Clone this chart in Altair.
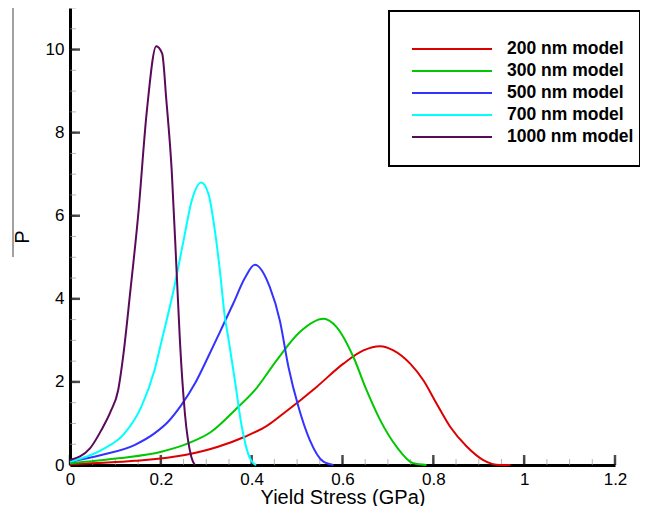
import altair as alt
import pandas as pd

series_names = ["200 nm model", "300 nm model", "500 nm model", "700 nm model", "1000 nm model"]
series_colors = ["#DD0000", "#00C800", "#3333FF", "#00FFFF", "#5A0A5A"]

x_200 = [0, 0.142, 0.253, 0.326, 0.385, 0.436, 0.47, 0.543, 0.602, 0.646, 0.683, 0.712, 0.749, 0.778, 0.807, 0.837, 0.874, 0.91, 0.947, 0.97]
y_200 = [0.02, 0.1, 0.24, 0.44, 0.68, 0.96, 1.24, 1.88, 2.44, 2.76, 2.86, 2.76, 2.44, 2.04, 1.48, 0.92, 0.44, 0.12, 0.0, 0.0]

x_300 = [0, 0.106, 0.201, 0.26, 0.311, 0.363, 0.407, 0.455, 0.506, 0.558, 0.587, 0.624, 0.653, 0.683, 0.719, 0.756, 0.785]
y_300 = [0.04, 0.16, 0.32, 0.52, 0.8, 1.32, 1.8, 2.52, 3.2, 3.52, 3.32, 2.6, 1.8, 1.08, 0.44, 0.04, 0.0]

x_500 = [0, 0.069, 0.142, 0.186, 0.216, 0.245, 0.275, 0.304, 0.33, 0.36, 0.385, 0.407, 0.44, 0.462, 0.481, 0.503, 0.528, 0.558, 0.58]
y_500 = [0.08, 0.24, 0.48, 0.76, 1.04, 1.44, 1.96, 2.6, 3.2, 3.9, 4.5, 4.82, 4.28, 3.48, 2.36, 1.4, 0.6, 0.08, 0.0]

x_700 = [0, 0.069, 0.12, 0.157, 0.186, 0.202, 0.228, 0.25, 0.268, 0.289, 0.305, 0.319, 0.33, 0.341, 0.348, 0.363, 0.377, 0.392, 0.405, 0.41]
y_700 = [0.08, 0.36, 0.76, 1.4, 2.28, 3.0, 4.2, 5.4, 6.36, 6.8, 6.52, 5.64, 4.68, 3.56, 3.1, 2.04, 1.0, 0.28, 0.03, 0.0]

x_1000 = [0, 0.044, 0.069, 0.09, 0.106, 0.118, 0.132, 0.15, 0.169, 0.19, 0.203, 0.212, 0.224, 0.235, 0.242, 0.253, 0.267, 0.275]
y_1000 = [0.12, 0.4, 0.84, 1.3, 1.8, 2.7, 4.1, 6.0, 8.5, 10.08, 9.9, 8.8, 7.08, 4.6, 3.0, 1.24, 0.2, 0.0]

x_major = [0, 0.2, 0.4, 0.6, 0.8, 1.0, 1.2]
x_minor = [round(0.05 * i, 2) for i in range(25)]
y_major = [0, 2, 4, 6, 8, 10]
y_minor = [round(0.5 * i, 1) for i in range(23)]

rows = []
for name, xs, ys in zip(series_names,
                        [x_200, x_300, x_500, x_700, x_1000],
                        [y_200, y_300, y_500, y_700, y_1000]):
    for i, (xv, yv) in enumerate(zip(xs, ys)):
        rows.append({"series": name, "x": xv, "y": yv, "i": i})
df = pd.DataFrame(rows)

FONT = "Liberation Sans"
W, H = 545, 457

xscale = alt.Scale(domain=[0, 1.2], nice=False, zero=False)
yscale = alt.Scale(domain=[0, 11], nice=False, zero=False)

lines = alt.Chart(df).mark_line(strokeWidth=2, interpolate="monotone").encode(
    x=alt.X("x:Q", scale=xscale,
            axis=alt.Axis(title="Yield Stress (GPa)", values=x_major, ticks=False,
                          labelPadding=6, labelFlush=False, titleY=38, titleBaseline="alphabetic",
                          labelExpr="datum.value == 0 ? '0' : datum.value == 1 ? '1' : format(datum.value, '.1f')")),
    y=alt.Y("y:Q", scale=yscale,
            axis=alt.Axis(title="P", values=y_major, ticks=False, labelPadding=6,
                          titleX=-42, titleBaseline="alphabetic", titleAngle=270)),
    color=alt.Color("series:N",
                    scale=alt.Scale(domain=series_names, range=series_colors),
                    sort=series_names,
                    legend=alt.Legend(orient="none", legendX=341, legendY=30.25,
                                      title=None,
                                      symbolType="stroke", symbolSize=6400,
                                      symbolStrokeWidth=2, symbolOffset=0,
                                      labelOffset=14, labelFontSize=17.5,
                                      labelFontWeight="bold", labelFont=FONT,
                                      labelColor="black",
                                      labelLimit=400, clipHeight=21.5, rowPadding=0,
                                      padding=0)),
    order="i:Q",
)

xminor_df = pd.DataFrame({"x": x_minor})
xmajor_df = pd.DataFrame({"x": x_major})
yminor_df = pd.DataFrame({"y": y_minor})
ymajor_df = pd.DataFrame({"y": y_major})

xminor = alt.Chart(xminor_df).mark_tick(orient="vertical", size=6, thickness=1, color="#999999", yOffset=-3).encode(
    x=alt.X("x:Q", scale=xscale), y=alt.value(H))
xmajor = alt.Chart(xmajor_df).mark_tick(orient="vertical", size=10, thickness=2.5, color="black", yOffset=-5).encode(
    x=alt.X("x:Q", scale=xscale), y=alt.value(H))
yminor = alt.Chart(yminor_df).mark_tick(orient="horizontal", size=6, thickness=1, color="#999999", xOffset=3).encode(
    y=alt.Y("y:Q", scale=yscale), x=alt.value(0))
ymajor = alt.Chart(ymajor_df).mark_tick(orient="horizontal", size=10, thickness=2.5, color="black", xOffset=5).encode(
    y=alt.Y("y:Q", scale=yscale), x=alt.value(0))

dummy = pd.DataFrame({"a": [0]})
side_line = alt.Chart(dummy).mark_rule(color="#444444", strokeWidth=1).encode(
    x=alt.value(-57), y=alt.value(0), y2=alt.value(249))
legend_box = alt.Chart(dummy).mark_rect(fill="white", stroke="black", strokeWidth=2).encode(
    x=alt.value(319), x2=alt.value(570), y=alt.value(3), y2=alt.value(158))

chart = alt.layer(legend_box, xminor, yminor, xmajor, ymajor, lines, side_line).properties(
    width=W, height=H,
    autosize=alt.AutoSizeParams(type="none"),
    padding={"left": 62, "top": 0, "right": 25, "bottom": 41},
).configure_view(stroke=None).configure_axis(
    domainColor="black", domainWidth=3, grid=False,
    labelFont=FONT, labelFontSize=17, labelColor="black",
    titleFont=FONT, titleFontSize=20, titleColor="black", titleFontWeight="normal",
)

chart.save("out.html", embed_options={"renderer": "svg", "actions": False})
